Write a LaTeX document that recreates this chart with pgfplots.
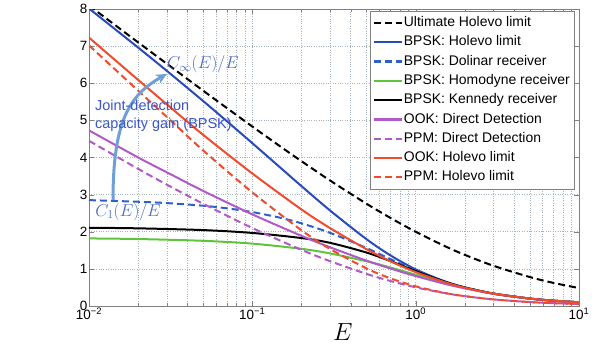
\documentclass[border=0pt]{standalone}
\usepackage{pgfplots}
\pgfplotsset{compat=1.18}
\usepackage{fontspec}
\newfontfamily\helv{Liberation Sans}
\usetikzlibrary{arrows.meta}
\definecolor{cblue}{RGB}{40,75,185}
\definecolor{cblued}{RGB}{45,95,205}
\definecolor{cgreen}{RGB}{95,195,60}
\definecolor{cpurple}{RGB}{175,90,200}
\definecolor{cred}{RGB}{240,75,45}
\definecolor{gridc}{RGB}{165,178,192}
\definecolor{annblue}{RGB}{55,85,205}
\definecolor{annlight}{RGB}{75,105,195}
\definecolor{arrowc}{RGB}{110,160,215}
\begin{document}
\begin{tikzpicture}
\begin{axis}[
  at={(0,0)}, anchor=south west,
  scale only axis, width=490bp, height=297bp,
  xmode=log, xmin=0.01, xmax=10, ymin=0, ymax=8,
  xtick={0.01,0.1,1,10},
  xticklabels={{10\textsuperscript{−2}},{10\textsuperscript{−1}},{10\textsuperscript{0}},{10\textsuperscript{1}}},
  minor xtick={0.02,0.03,0.04,0.05,0.06,0.07,0.08,0.09,0.2,0.3,0.4,0.5,0.6,0.7,0.8,0.9,2,3,4,5,6,7,8,9},
  ytick={0,1,2,3,4,5,6,7,8},
  xmajorgrids, xminorgrids, ymajorgrids,
  major grid style={dotted, color=gridc, line width=0.6bp},
  minor grid style={dotted, color=gridc, line width=0.6bp},
  axis line style={color=gray},
  tick align=inside, tick style={color=gray}, major tick length=5bp, minor tick length=3bp,
  tick label style={font=\helv\fontsize{13.5}{15}\selectfont, /pgf/number format/assume math mode=true},
  yticklabel style={inner sep=1.5bp},
  xticklabel style={inner sep=2bp},
  xlabel={$E$},
  xlabel style={at={(axis description cs:0.518,-0.086)}, anchor=center, font=\fontsize{24}{28}\selectfont},
  legend style={at={(0.9898,0.9933)}, anchor=north east, draw=gray, fill=white,
    font=\helv\fontsize{14}{16}\selectfont, inner xsep=3bp, inner ysep=4.4bp, row sep=4.5bp,
    nodes={inner sep=1bp, text height=10bp, text depth=2.8bp}, cells={anchor=west}},
  legend image code/.code={\draw[#1, line width=2.2bp] (0bp,0bp) -- (28bp,0bp);},
  every axis plot/.append style={line width=2bp, smooth, tension=0.5},
  dashstyle/.style={dash pattern=on 7bp off 4bp},
]
% Ultimate Holevo limit
\addplot[black, dashstyle] table {
0.01 8.094
0.015 7.512
0.02 7.101
0.03 6.523
0.05 5.800
0.07 5.329
0.1 4.834
0.15 4.283
0.2 3.900
0.3 3.377
0.5 2.755
0.7 2.374
1 2.000
1.5 1.618
2 1.377
3 1.082
5 0.780
7 0.621
10 0.483
};
\addlegendentry{Ultimate Holevo limit}
% BPSK Holevo
\addplot[cblue] table {
0.01 8.013
0.02 6.961
0.03 6.332
0.05 5.521
0.07 4.974
0.1 4.386
0.15 3.709
0.2 3.229
0.3 2.568
0.5 1.800
0.7 1.365
1 0.987
1.5 0.666
2 0.500
3 0.333
5 0.200
7 0.143
10 0.100
};
\addlegendentry{BPSK: Holevo limit}
% Dolinar
\addplot[cblued, dashstyle] table {
0.01 2.852
0.02 2.808
0.03 2.772
0.05 2.701
0.07 2.631
0.1 2.530
0.15 2.372
0.2 2.227
0.3 1.969
0.5 1.562
0.7 1.264
1 0.958
1.5 0.662
2 0.499
3 0.333
5 0.200
7 0.143
10 0.100
};
\addlegendentry{BPSK: Dolinar receiver}
% Homodyne
\addplot[cgreen] table {
0.01 1.820
0.02 1.804
0.05 1.756
0.1 1.680
0.2 1.540
0.3 1.415
0.5 1.205
0.7 1.037
1 0.843
1.5 0.626
2 0.488
3 0.332
5 0.200
7 0.143
10 0.100
};
\addlegendentry{BPSK: Homodyne receiver}
% Kennedy
\addplot[black] table {
0.01 2.108
0.02 2.092
0.05 2.045
0.1 1.968
0.2 1.830
0.3 1.700
0.5 1.440
0.7 1.210
1 0.940
1.5 0.658
2 0.499
3 0.333
5 0.200
7 0.143
10 0.100
};
\addlegendentry{BPSK: Kennedy receiver}
% OOK DD
\addplot[cpurple] table {
0.01 4.73
0.02 4.00
0.03 3.60
0.05 3.10
0.1 2.468
0.2 1.89
0.3 1.58
0.5 1.222
0.7 1.011
1 0.806
1.5 0.600
2 0.475
3 0.329
5 0.200
7 0.143
10 0.100
};
\addlegendentry{OOK: Direct Detection}
% PPM DD
\addplot[cpurple, dashstyle] table {
0.01 4.45
0.02 3.693
0.03 3.268
0.05 2.754
0.1 2.100
0.2 1.512
0.3 1.205
0.5 0.865
0.7 0.674
1 0.503
1.5 0.348
2 0.264
3 0.177
5 0.106
7 0.076
10 0.053
};
\addlegendentry{PPM: Direct Detection}
% OOK Holevo
\addplot[cred] table {
0.01 7.23
0.02 6.09
0.03 5.43
0.05 4.61
0.1 3.57
0.2 2.60
0.3 2.095
0.5 1.53
0.7 1.207
1 0.913
1.5 0.645
2 0.493
3 0.333
5 0.200
7 0.143
10 0.100
};
\addlegendentry{OOK: Holevo limit}
% PPM Holevo
\addplot[cred, dashstyle] table {
0.01 7.02
0.02 5.80
0.03 5.09
0.05 4.19
0.1 3.06
0.2 2.04
0.3 1.533
0.5 1.012
0.7 0.746
1 0.529
1.5 0.354
2 0.265
3 0.177
5 0.106
7 0.076
10 0.053
};
\addlegendentry{PPM: Holevo limit}
% annotations
\draw[color=arrowc, line width=3bp, -{Stealth[length=11bp,width=10bp]}]
  (axis cs:0.01403,2.857) .. controls (axis cs:0.01403,5.013) and (axis cs:0.01783,5.687) .. (axis cs:0.03003,6.253);
\node[anchor=west, align=left, text=annblue, font=\helv\fontsize{14.5}{18}\selectfont, inner sep=0pt]
  at (axis cs:0.01088,5.12) {Joint-detection\\capacity gain (BPSK)};
\node[text=annlight, font=\fontsize{18}{20}\selectfont, inner sep=0pt] at (axis cs:0.0499,6.50) {$C_\infty(E)/E$};
\node[text=annlight, font=\fontsize{18}{20}\selectfont, inner sep=0pt] at (axis cs:0.01733,2.53) {$C_1(E)/E$};
\node[font=\fontsize{24}{28}\selectfont] at (axis description cs:-0.094,0.845) {$\displaystyle\frac{C(E)}{E}$};
\node[rotate=90, font=\fontsize{25}{30}\selectfont] at (axis description cs:-0.086,0.384) {bits per photon};
\end{axis}
\pgfresetboundingbox
\useasboundingbox (-89bp,-38bp) rectangle (514bp,306bp);
\end{tikzpicture}
\end{document}
